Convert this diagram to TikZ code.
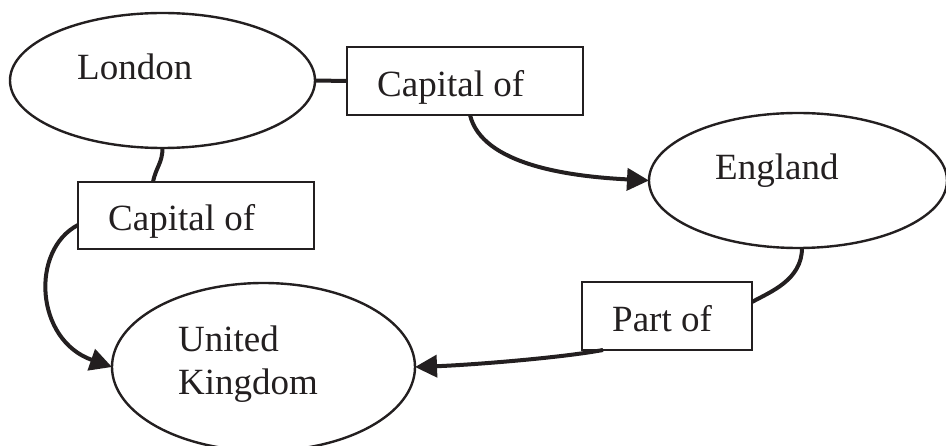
\documentclass[tikz,border=0pt]{standalone}
\usepackage{fontspec}
\setmainfont{Liberation Serif}
\usetikzlibrary{arrows.meta,shapes.geometric}
\definecolor{ink}{RGB}{35,31,32}
\begin{document}
\begin{tikzpicture}[x=1pt,y=-1pt,
  ell/.style={draw=ink,line width=2.4pt,ellipse,inner sep=0pt,outer sep=0pt},
  box/.style={draw=ink,line width=2.2pt,rectangle,inner sep=0pt,outer sep=0pt},
  lbl/.style={text=ink,font=\fontsize{37}{43}\selectfont,inner sep=0pt,anchor=base west},
  conn/.style={draw=ink,line width=4pt},
  arr/.style={conn,-{Triangle[length=22pt,width=22pt]}}]
\useasboundingbox (0,0) rectangle (946,446);
\clip (0,0) rectangle (946,446);
% shapes
\node[ell,minimum width=305pt,minimum height=135pt] (london) at (162.5,80.5) {};
\node[ell,minimum width=298pt,minimum height=135pt] (england) at (798,180.5) {};
\node[ell,minimum width=303pt,minimum height=168pt] (uk) at (263.5,367) {};
\node[box,minimum width=236pt,minimum height=68pt] (cap1) at (465,81) {};
\node[box,minimum width=236pt,minimum height=67pt] (cap2) at (196,215.5) {};
\node[box,minimum width=170pt,minimum height=68pt] (partof) at (667,316) {};
% texts
\node[lbl] (tlondon) at (77,80) {London};
\node[lbl] (tcap1) at (377,97) {Capital of};
\node[lbl] (tengland) at (715,180) {England};
\node[lbl] (tcap2) at (108,231) {Capital of};
\node[lbl] (tpart) at (612,332) {Part of};
\node[lbl] (tunited) at (178,352) {United};
\node[lbl] (tkingdom) at (178,395) {Kingdom};
% connectors
\draw[conn] (london.east) -- (cap1.west);
\draw[arr] ([shift={(5,0)}]cap1.south) .. controls +(12,50) and +(-79,-4) .. (england.west);
\draw[conn] (london.south) .. controls +(0,15) and +(3,-15) .. ([shift={(-43,0)}]cap2.north);
\draw[arr] ([shift={(0,9.5)}]cap2.west) .. controls +(-48,25) and +(-77,-27) .. (uk.west);
\draw[conn] ([shift={(4,0)}]england.south) .. controls +(0,32) and +(18,-10) .. ([shift={(0,-14)}]partof.east);
\draw[arr] ([shift={(-64,0)}]partof.south) .. controls +(-43,8) and +(55,-2) .. (uk.east);
\end{tikzpicture}
\end{document}
